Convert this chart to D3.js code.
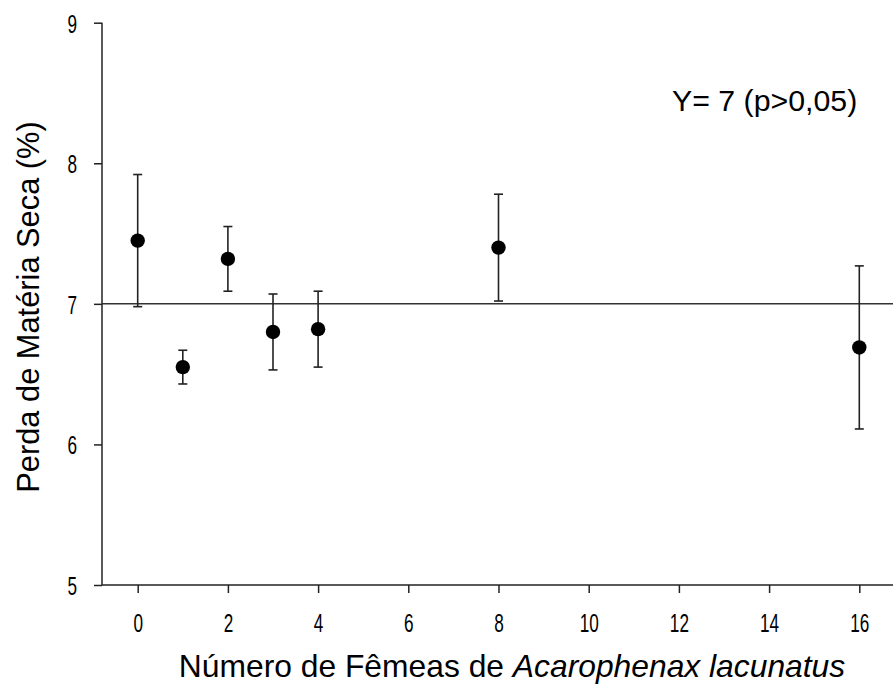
<!DOCTYPE html>
<html>
<head>
<meta charset="utf-8">
<script src="https://cdn.jsdelivr.net/npm/d3@7/dist/d3.min.js"></script>
<style>
  html, body { margin: 0; padding: 0; background: #fff; }
  svg { display: block; }
  text { font-family: "Liberation Sans", Arial, sans-serif; fill: #000; }
</style>
</head>
<body>
<svg id="chart" width="893" height="692"></svg>
<script>
// Number of Acarophenax lacunatus females per treatment
const females = [0, 1, 2, 3, 4, 8, 16];
// Mean dry-matter loss (%) and its error
const meanLoss = [7.45, 6.55, 7.32, 6.80, 6.82, 7.40, 6.69];
const errLoss  = [0.47, 0.12, 0.23, 0.27, 0.27, 0.38, 0.58];
// Fitted constant model
const fittedY = 7;
const xTicks = [0, 2, 4, 6, 8, 10, 12, 14, 16];
const yTicks = [5, 6, 7, 8, 9];

const W = 893, H = 692;
const plotLeft = 102, plotBottom = 585, plotTop = 22.7;
const svg = d3.select("#chart");

const x = d3.scaleLinear().domain([0, 16]).range([137.7, 859.3]);
const y = d3.scaleLinear().domain([5, 9]).range([plotBottom, plotTop]);

const ink = "#222";
const labelScale = 0.66;
const tickFmt = d3.format("d");

// X axis
const gx = svg.append("g").attr("transform", `translate(0,${plotBottom})`)
  .call(d3.axisBottom(x).tickValues(xTicks).tickFormat(tickFmt)
    .tickSize(8).tickPadding(0).tickSizeOuter(0));
gx.select(".domain").remove();
gx.selectAll(".tick line").attr("stroke", ink).attr("stroke-width", 1.5);
gx.selectAll(".tick text")
  .attr("font-size", 26).attr("y", 0).attr("dy", 0).attr("fill", "#222")
  .attr("transform", `translate(0,47) scale(${labelScale},1)`)
  .attr("font-family", "'Liberation Sans', Arial, sans-serif");
svg.append("line").attr("x1", plotLeft).attr("x2", W).attr("y1", plotBottom).attr("y2", plotBottom)
  .attr("stroke", ink).attr("stroke-width", 1.5);

// Y axis
const gy = svg.append("g").attr("transform", `translate(${plotLeft},0)`)
  .call(d3.axisLeft(y).tickValues(yTicks).tickFormat(tickFmt)
    .tickSize(8).tickPadding(0).tickSizeOuter(0));
gy.select(".domain").remove();
gy.selectAll(".tick line").attr("stroke", ink).attr("stroke-width", 1.5);
gy.selectAll(".tick text")
  .attr("font-size", 26).attr("x", 0).attr("dy", "0.36em").attr("fill", "#222")
  .attr("transform", `translate(-25,0) scale(${labelScale},1)`)
  .attr("font-family", "'Liberation Sans', Arial, sans-serif");
svg.append("line").attr("x1", plotLeft).attr("x2", plotLeft).attr("y1", y(9)).attr("y2", plotBottom)
  .attr("stroke", ink).attr("stroke-width", 1.5);

// Fitted horizontal line
svg.append("line")
  .attr("x1", plotLeft).attr("x2", W)
  .attr("y1", y(fittedY)).attr("y2", y(fittedY))
  .attr("stroke", "#333").attr("stroke-width", 1.5);

// Error bars
const cap = 4.5;
const eb = svg.append("g").attr("stroke", ink).attr("stroke-width", 1.6);
females.forEach((f, i) => {
  const cx = x(f), lo = y(meanLoss[i] - errLoss[i]), hi = y(meanLoss[i] + errLoss[i]);
  eb.append("line").attr("x1", cx).attr("x2", cx).attr("y1", lo).attr("y2", hi);
  eb.append("line").attr("x1", cx - cap).attr("x2", cx + cap).attr("y1", lo).attr("y2", lo);
  eb.append("line").attr("x1", cx - cap).attr("x2", cx + cap).attr("y1", hi).attr("y2", hi);
});

// Means
svg.append("g").selectAll("circle").data(females).join("circle")
  .attr("cx", d => x(d))
  .attr("cy", (d, i) => y(meanLoss[i]))
  .attr("r", 7.2)
  .attr("fill", "#000");

// Model annotation
svg.append("text")
  .attr("x", 672).attr("y", 111)
  .attr("font-size", 30.3)
  .text("Y= 7 (p>0,05)");

// Axis titles
svg.append("text")
  .attr("transform", `translate(39,307) rotate(-90)`)
  .attr("text-anchor", "middle")
  .attr("font-size", 30.8)
  .text("Perda de Matéria Seca (%)");

const xt = svg.append("text")
  .attr("x", 512).attr("y", 677)
  .attr("text-anchor", "middle")
  .attr("font-size", 31.8);
xt.append("tspan").text("Número de Fêmeas de ");
xt.append("tspan").attr("font-style", "italic").text("Acarophenax lacunatus");
</script>
</body>
</html>
